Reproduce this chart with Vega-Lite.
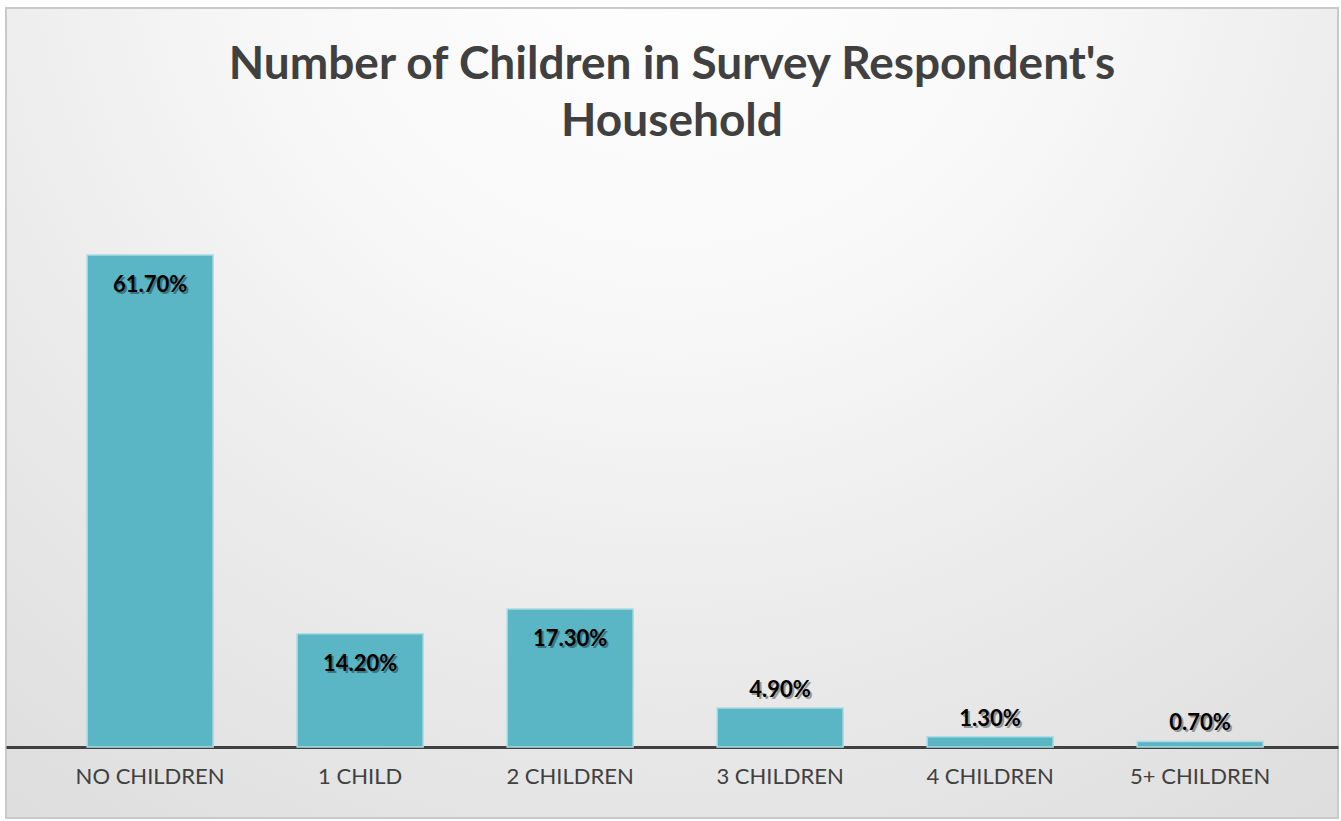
{
  "$schema": "https://vega.github.io/schema/vega-lite/v6.json",
  "width": 1332,
  "height": 810,
  "autosize": {"type": "none"},
  "padding": {"left": 6, "top": 8, "right": 3, "bottom": 3},
  "background": "#ffffff",
  "config": {
    "view": {
      "stroke": "#c9c9c9",
      "strokeWidth": 2,
      "fill": {
        "gradient": "radial",
        "x1": 0.5, "y1": 0.12, "r1": 0,
        "x2": 0.5, "y2": 0.12, "r2": 1.0,
        "stops": [
          {"offset": 0, "color": "#ffffff"},
          {"offset": 0.3, "color": "#f8f8f8"},
          {"offset": 0.55, "color": "#ebebeb"},
          {"offset": 1, "color": "#d6d6d6"}
        ]
      }
    },
    "font": "Lato"
  },
  "title": {
    "text": ["Number of Children in Survey Respondent's", "Household"],
    "font": "Lato",
    "fontSize": 46,
    "fontWeight": "bold",
    "color": "#404040",
    "lineHeight": 57,
    "anchor": "middle",
    "frame": "group",
    "offset": -138
  },
  "data": {
    "values": [
      {"category": "NO CHILDREN", "share": 0.617},
      {"category": "1 CHILD", "share": 0.142},
      {"category": "2 CHILDREN", "share": 0.173},
      {"category": "3 CHILDREN", "share": 0.049},
      {"category": "4 CHILDREN", "share": 0.013},
      {"category": "5+ CHILDREN", "share": 0.007}
    ]
  },
  "encoding": {
    "x": {
      "field": "category",
      "type": "nominal",
      "sort": null,
      "scale": {"paddingInner": 0.4, "paddingOuter": 0.3714, "align": 0.52},
      "axis": {
        "title": null,
        "labelAngle": 0,
        "offset": -71,
        "domainColor": "#404040",
        "domainWidth": 3,
        "ticks": false,
        "labelFont": "Lato",
        "labelFontSize": 22,
        "labelColor": "#404040",
        "labelPadding": 19
      }
    },
    "y": {
      "field": "share",
      "type": "quantitative",
      "scale": {"domain": [-0.089, 0.9268], "nice": false, "zero": false},
      "axis": null
    }
  },
  "layer": [
    {
      "mark": {"type": "bar", "color": "#5ab6c4", "stroke": "#a9dce4", "strokeWidth": 1.5}
    },
    {
      "transform": [{"filter": "datum.share > 0.1"}],
      "mark": {"type": "text", "baseline": "middle", "dy": 32, "dx": 2, "font": "Lato", "fontSize": 22, "fontWeight": "bold", "color": "#000000", "opacity": 0.35},
      "encoding": {"text": {"field": "share", "format": ".2%"}}
    },
    {
      "transform": [{"filter": "datum.share > 0.1"}],
      "mark": {"type": "text", "baseline": "middle", "dy": 30, "font": "Lato", "fontSize": 22, "fontWeight": "bold", "color": "#000000"},
      "encoding": {"text": {"field": "share", "format": ".2%"}}
    },
    {
      "transform": [{"filter": "datum.share <= 0.1"}],
      "mark": {"type": "text", "baseline": "middle", "dy": -16, "dx": 2, "font": "Lato", "fontSize": 22, "fontWeight": "bold", "color": "#000000", "opacity": 0.35},
      "encoding": {"text": {"field": "share", "format": ".2%"}}
    },
    {
      "transform": [{"filter": "datum.share <= 0.1"}],
      "mark": {"type": "text", "baseline": "middle", "dy": -18, "font": "Lato", "fontSize": 22, "fontWeight": "bold", "color": "#000000"},
      "encoding": {"text": {"field": "share", "format": ".2%"}}
    }
  ]
}
